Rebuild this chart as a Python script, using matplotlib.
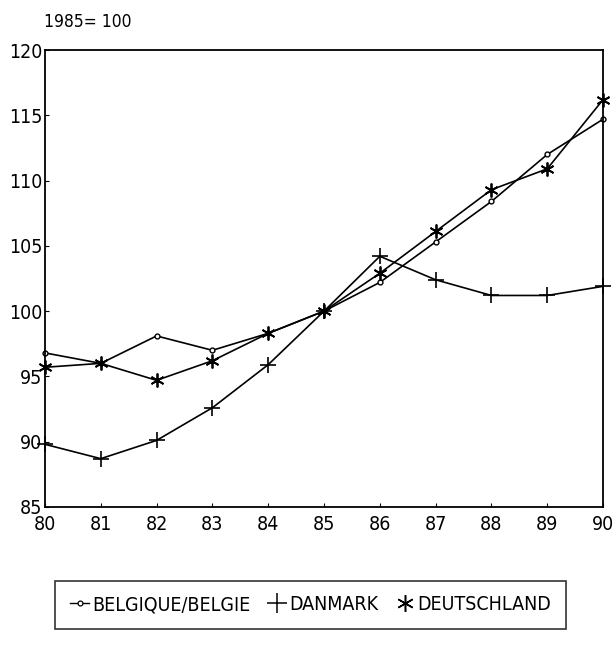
import numpy as np
import matplotlib.pyplot as plt
from matplotlib.lines import Line2D

plt.rcParams['font.family'] = ['DejaVu Sans']
plt.rcParams['font.stretch'] = 'condensed'

# Datos (1985 = 100)
years = [80, 81, 82, 83, 84, 85, 86, 87, 88, 89, 90]
belgique = [96.8, 96.0, 98.1, 97.0, 98.3, 100.0, 102.2, 105.3, 108.4, 112.0, 114.7]
danmark = [89.8, 88.7, 90.1, 92.6, 95.9, 100.0, 104.2, 102.4, 101.2, 101.2, 101.9]
deutschland = [95.7, 96.0, 94.7, 96.2, 98.3, 100.0, 102.9, 106.1, 109.3, 110.9, 116.2]
yticks = [85, 90, 95, 100, 105, 110, 115, 120]

fig = plt.figure(figsize=(6.16, 6.46), dpi=100)
ax = fig.add_axes([0.073, 0.2152, 0.906, 0.7074])

star = (6, 2, 0)
ax.plot(years, belgique, color='black', lw=1.2, marker='o', ms=3.5,
        mfc='white', mec='black', mew=1.0, clip_on=False)
ax.plot(years, danmark, color='black', lw=1.2, marker='+', ms=12,
        mew=1.2, clip_on=False)
ax.plot(years, deutschland, color='black', lw=1.2, marker=star, ms=10,
        mew=1.3, clip_on=False)

ax.set_xlim(80, 90)
ax.set_ylim(85, 120)
ax.set_xticks(years)
ax.set_yticks(yticks)
ax.tick_params(direction='in', length=3, labelsize=14)
ax.tick_params(axis='y', pad=2)
ax.tick_params(axis='x', pad=6)
for s in ax.spines.values():
    s.set_linewidth(1.3)

fig.text(0.071, 0.966, '1985= 100', fontsize=12.5, ha='left', va='center')

handles = [
    Line2D([], [], color='black', lw=1.0, marker='o', ms=3.5, mfc='white', mew=0.9),
    Line2D([], [], color='black', ls='none', marker='+', ms=15, mew=1.1),
    Line2D([], [], color='black', ls='none', marker=star, ms=12, mew=1.1),
]
labels = ['BELGIQUE/BELGIE', 'DANMARK', 'DEUTSCHLAND']
leg = fig.legend(handles, labels, loc='center', bbox_to_anchor=(0.504, 0.064),
                 ncol=3, fontsize=14, frameon=True, fancybox=False,
                 handlelength=1.0, handletextpad=0.15, columnspacing=0.85,
                 borderpad=0.75, edgecolor='black')
leg.get_frame().set_linewidth(1.2)

fig.savefig('out.png', dpi=100)
